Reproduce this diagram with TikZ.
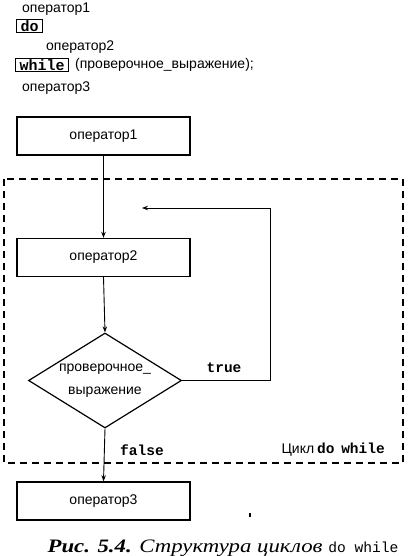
\documentclass[tikz,border=0pt]{standalone}
\usepackage{fontspec}
\setmainfont{Liberation Sans}
\setmonofont{Liberation Mono}
\newfontfamily\capserif[FakeStretch=1.2]{Liberation Serif}
\usetikzlibrary{shapes.geometric,arrows.meta}
\tikzset{
  x=1pt,y=-1pt,
  txt/.style={inner sep=0pt,font=\fontsize{14}{16}\selectfont},
  kw/.style={draw,line width=1.4pt,inner xsep=4pt,inner ysep=1.2pt,font=\fontsize{15}{15}\selectfont\ttfamily\bfseries},
  stepbox/.style={draw,line width=1.4pt,minimum width=173pt,minimum height=38pt,inner sep=0pt,font=\fontsize{14}{16}\selectfont},
  decision/.style={diamond,draw,line width=1.2pt,minimum width=153pt,minimum height=95pt,inner sep=0pt},
  dtext/.style={inner sep=0pt,align=center,font=\fontsize{14}{23}\selectfont},
  conn/.style={line width=0.9pt,-{Stealth[length=6pt,width=4.5pt]}},
  mlabel/.style={inner sep=0pt,font=\fontsize{14.5}{15}\selectfont\ttfamily\bfseries},
  loopbox/.style={line width=1.2pt,dash pattern=on 7pt off 5pt}
}
\begin{document}
\begin{tikzpicture}
\useasboundingbox (0,0) rectangle (410,556);
% code listing
\node[txt,anchor=west] (l1) at (22,9) {оператор1};
\node[kw,anchor=west] (l2) at (16,26) {do};
\node[txt,anchor=west] (l3) at (46,47) {оператор2};
\node[kw,anchor=west] (l4) at (15,65) {while};
\node[txt,anchor=west] (l4b) at (75,65) {(проверочное\_выражение);};
\node[txt,anchor=west] (l5) at (22,88) {оператор3};
% loop frame
\draw[loopbox] (4,179) rectangle (403,463);
% flowchart
\node[stepbox] (op1) at (103.5,136) {оператор1};
\node[stepbox] (op2) at (103.5,257.5) {оператор2};
\node[decision] (dec) at (105,380.5) {};
\node[dtext] (dect) at (dec.center) {проверочное\_\\выражение};
\node[stepbox] (op3) at (103.5,501) {оператор3};
\coordinate (c1) at (270,208);
\coordinate (fb) at (142,208);
\draw[conn] (op1.south) -- (op2.north);
\draw[conn] (op2.south) -- (dec.north);
\draw[conn] (dec.east) -| (c1) -- (fb);
\draw[conn] (dec.south) -- (op3.north);
\node[mlabel] (tl) at (224,368) {true};
\node[mlabel] (fl) at (142,450) {false};
\node[inner sep=0pt,anchor=east,font=\fontsize{14}{16}\selectfont] (cyc) at (385,450) {Цикл\hspace{3pt}{\fontsize{14.5}{15}\selectfont\ttfamily\bfseries do\hspace{-2pt} while}};
\fill (248.5,512.5) rectangle (250.5,517);
% caption
\node[inner sep=0pt,font=\capserif\fontsize{19}{20}\selectfont] (cap) at (223,548) {\textbf{\textit{Рис. 5.4.}} \textit{Структура циклов} {\fontsize{14.6}{16}\selectfont\ttfamily do while}};
\end{tikzpicture}
\end{document}
